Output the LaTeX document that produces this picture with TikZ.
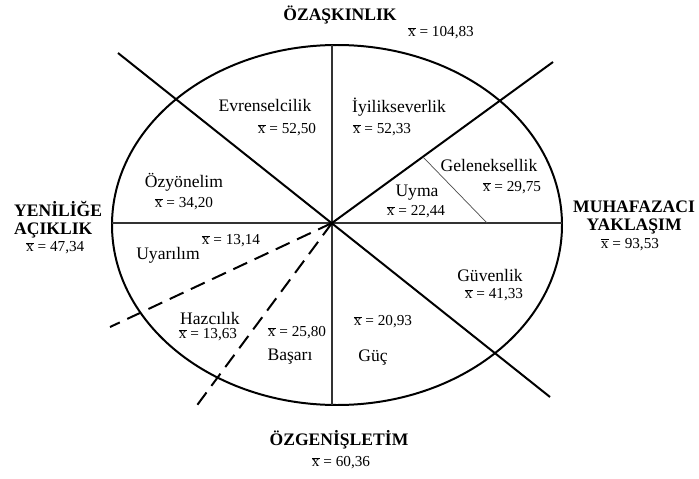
\documentclass[tikz,border=0pt]{standalone}
\usepackage{fontspec}
\setmainfont{Liberation Serif}
\usetikzlibrary{positioning,calc}
\newcommand{\xort}{\ensuremath{\overline{\mbox{x}}}}

\begin{document}
\begin{tikzpicture}[x=0.03cm,y=-0.03cm,
	baslik/.style={font=\fontsize{15}{15}\selectfont\bfseries, align=left, inner sep=0pt},
	deger/.style={font=\fontsize{15}{16}\selectfont, inner sep=0pt},
	ort/.style={font=\fontsize{13}{15}\selectfont, inner sep=0pt},
	kalin/.style={line width=1.7pt},
	ince/.style={line width=1.1pt, black!80}]
	\useasboundingbox (0,0) rectangle (699,479);
	% ana noktalar
	\coordinate (merkez) at (332,223);
	\coordinate (ust) at (332,45);
	\coordinate (alt) at (332,405);
	\coordinate (sol) at (112,223);
	\coordinate (sag) at (562,223);
	\coordinate (solust) at (118,53);
	\coordinate (sagalt) at (550,397);
	\coordinate (sagust) at (553,62);
	\coordinate (kesik1) at (110,327);
	\coordinate (kesik2) at (195,408);
	\coordinate (uyma1) at (423,157);
	\coordinate (uyma2) at (487,223);
	% elips ve cizgiler
	\draw[kalin] (337,225) ellipse (225 and 180);
	\draw[ince] (ust) -- (alt);
	\draw[ince] (sol) -- (sag);
	\draw[kalin] (solust) -- (sagalt);
	\draw[kalin] (merkez) -- (sagust);
	\foreach \k in {kesik1,kesik2} {
		\draw[kalin, dash pattern=on 13pt off 7pt] (merkez) -- (\k);
	}
	\draw[line width=0.6pt, black!70] (uyma1) -- (uyma2);
	% boyut basliklari
	\node[baslik] (ozaskinlik) at (340,15) {ÖZAŞKINLIK};
	\node[ort] (ozaskinlikort) at (441,33) {\xort{} = 104,83};
	\node[baslik, anchor=north west] (yenilige) at (14,201) {YENİLİĞE\\AÇIKLIK};
	\node[ort, below=3pt of yenilige.south, xshift=-2.5pt] (yeniligeort) {\xort{} = 47,34};
	\node[baslik, anchor=north west, align=center] (muhafazaci) at (573,201) {MUHAFAZACI\\YAKLAŞIM};
	\node[ort, below=3pt of muhafazaci.south, xshift=-3.5pt] (muhafazaciort) {\xort{} = 93,53};
	\node[baslik] (ozgenisletim) at (339,440) {ÖZGENİŞLETİM};
	\node[ort] (ozgenisletimort) at (341,463) {\xort{} = 60,36};
	% degerler
	\node[deger] (evrensel) at (265,105) {Evrenselcilik};
	\node[ort] (evrenselort) at (287,130) {\xort{} = 52,50};
	\node[deger] (iyilik) at (399,107) {İyilikseverlik};
	\node[ort] (iyilikort) at (382,130) {\xort{} = 52,33};
	\node[deger] (gelenek) at (489,165) {Geleneksellik};
	\node[ort] (gelenekort) at (512,188) {\xort{} = 29,75};
	\node[deger] (uyma) at (417,193) {Uyma};
	\node[ort] (uymaort) at (416,212) {\xort{} = 22,44};
	\node[deger] (ozyon) at (184,182) {Özyönelim};
	\node[ort] (ozyonort) at (184,204) {\xort{} = 34,20};
	\node[ort] (uyarilimort) at (231,241) {\xort{} = 13,14};
	\node[deger] (uyarilim) at (168,255) {Uyarılım};
	\node[deger] (hazcilik) at (210,318) {Hazcılık};
	\node[ort] (hazcilikort) at (208,335) {\xort{} = 13,63};
	\node[ort] (basariort) at (297,333) {\xort{} = 25,80};
	\node[deger] (basari) at (290,357) {Başarı};
	\node[ort] (gucort) at (383,322) {\xort{} = 20,93};
	\node[deger] (guc) at (373,358) {Güç};
	\node[deger] (guvenlik) at (490,275) {Güvenlik};
	\node[ort] (guvenlikort) at (494,295) {\xort{} = 41,33};
\end{tikzpicture}
\end{document}
